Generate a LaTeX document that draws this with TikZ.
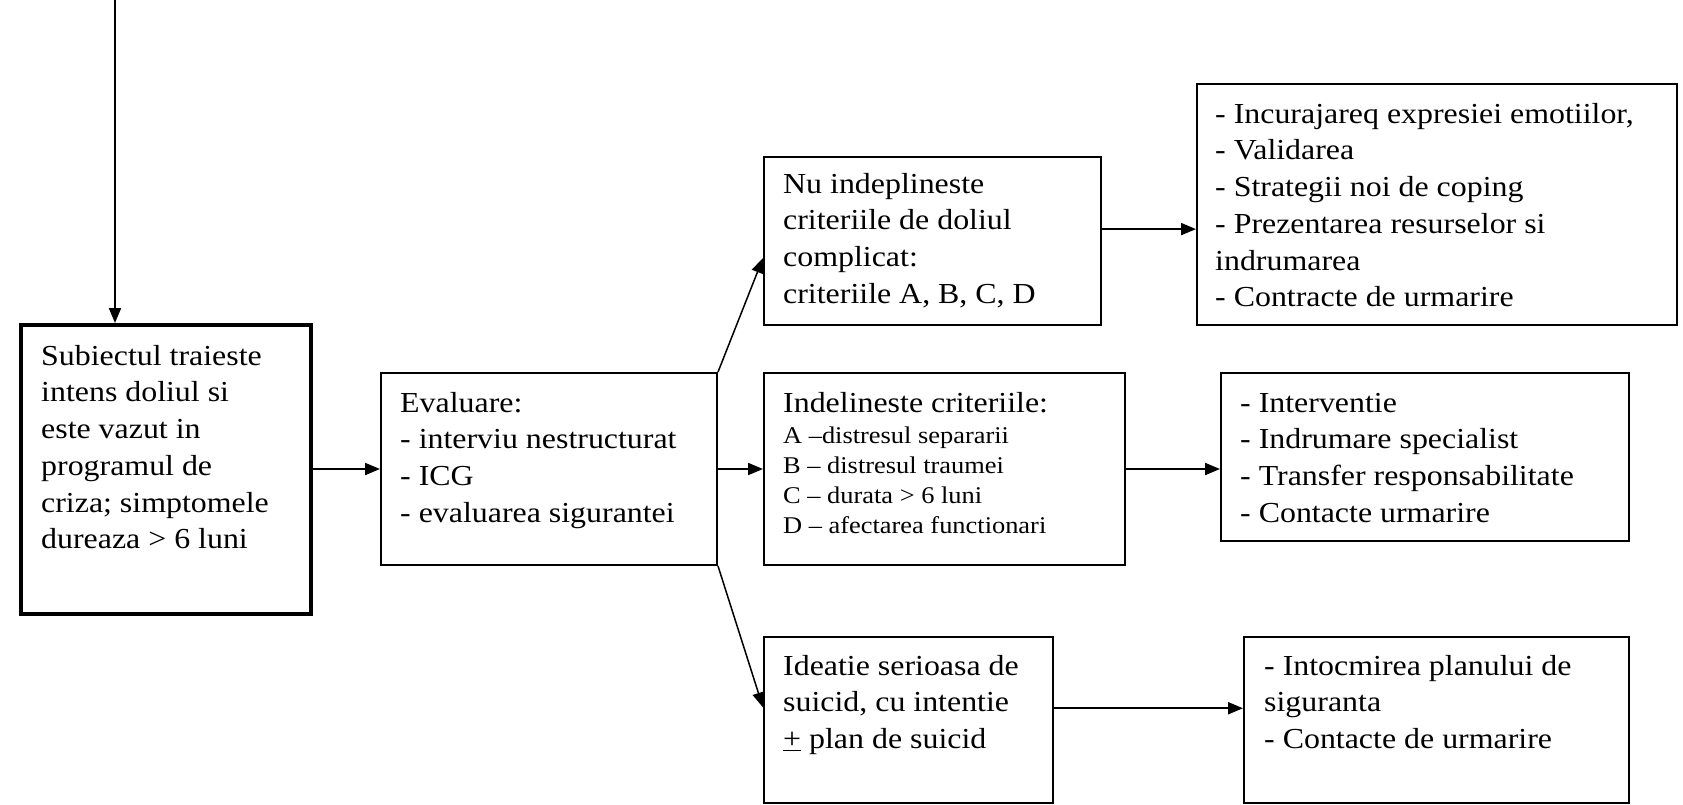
\documentclass[tikz,border=0pt]{standalone}
\usepackage{fontspec}
\setmainfont[FakeStretch=1.1]{Liberation Serif}
\usetikzlibrary{arrows.meta,calc}
\newcommand\fstrut{\rule{0pt}{22pt}}
\newcommand\sstrut{\rule{0pt}{18pt}}
\begin{document}
\begin{tikzpicture}[x=1pt,y=-1pt,
  box/.style={draw,line width=2pt,rectangle,inner sep=0pt,anchor=north west},
  thickbox/.style={box,line width=4pt},
  txt/.style={anchor=north west,align=left,inner sep=0pt,font=\fontsize{29}{36.7}\selectfont},
  smalltxt/.style={txt,font=\fontsize{24}{30}\selectfont},
  conn/.style={line width=2pt,-{Triangle[length=15pt,width=12pt]}},
  diag/.style={line width=1.5pt,-{Triangle[length=15pt,width=12pt]}}]
\useasboundingbox (0,0) rectangle (1683,804);
% boxes
\node[thickbox,minimum width=290,minimum height=289] (b1) at (19,323) {};
\node[box,minimum width=336,minimum height=192] (b2) at (380,372) {};
\node[box,minimum width=361,minimum height=192] (b3) at (763,372) {};
\node[box,minimum width=337,minimum height=168] (b4) at (763,156) {};
\node[box,minimum width=480,minimum height=241] (b5) at (1196,83) {};
\node[box,minimum width=408,minimum height=168] (b6) at (1220,372) {};
\node[box,minimum width=289,minimum height=166] (b7) at (763,636) {};
\node[box,minimum width=385,minimum height=166] (b8) at (1243,636) {};
% texts (first baseline = node top + 22)
\node[txt] (t1) at ($(b1.north west)+(22,20)$) {\fstrut Subiectul traieste\\intens doliul si\\este vazut in\\programul de\\criza; simptomele\\dureaza > 6 luni};
\node[txt] (t2) at ($(b2.north west)+(20,18)$) {\fstrut Evaluare:\\- interviu nestructurat\\- ICG\\- evaluarea sigurantei};
\node[txt] (t3) at ($(b3.north west)+(20,18)$) {\fstrut Indelineste criteriile:};
\node[smalltxt] (t3b) at ($(b3.north west)+(20,53)$) {\sstrut A –distresul separarii\\B – distresul traumei\\C – durata > 6 luni\\D – afectarea functionari};
\node[txt] (t4) at ($(b4.north west)+(20,15)$) {\fstrut Nu indeplineste\\criteriile de doliul\\complicat:\\criteriile A, B, C, D};
\node[txt] (t5) at ($(b5.north west)+(19,18)$) {\fstrut - Incurajareq expresiei emotiilor,\\- Validarea\\- Strategii noi de coping\\- Prezentarea resurselor si\\indrumarea\\- Contracte de urmarire};
\node[txt] (t6) at ($(b6.north west)+(20,18)$) {\fstrut - Interventie\\- Indrumare specialist\\- Transfer responsabilitate\\- Contacte urmarire};
\node[txt] (t7) at ($(b7.north west)+(20,17)$) {\fstrut Ideatie serioasa de\\suicid, cu intentie\\\underline{+} plan de suicid};
\node[txt] (t8) at ($(b8.north west)+(21,17)$) {\fstrut - Intocmirea planului de\\siguranta\\- Contacte de urmarire};
% connectors
\coordinate (top) at (115,0);
\coordinate (a4) at ($(b4.north east)!0.43!(b4.south east)$);
\coordinate (a7) at ($(b7.north east)!0.43!(b7.south east)$);
\coordinate (d4) at ($(b4.north west)!0.6!(b4.south west)$);
\coordinate (d7) at ($(b7.north west)!0.425!(b7.south west)$);
\draw[conn] (top) -- (top |- b1.north);
\draw[conn] (b2.west -| b1.east) -- (b2.west);
\draw[conn] (b2.east) -- (b3.west);
\draw[conn] (b3.east) -- (b3.east -| b6.west);
\draw[conn] (a4) -- (a4 -| b5.west);
\draw[conn] (a7) -- (a7 -| b8.west);
\draw[diag] (b2.north east) -- (d4);
\draw[diag] (b2.south east) -- (d7);
\end{tikzpicture}
\end{document}
